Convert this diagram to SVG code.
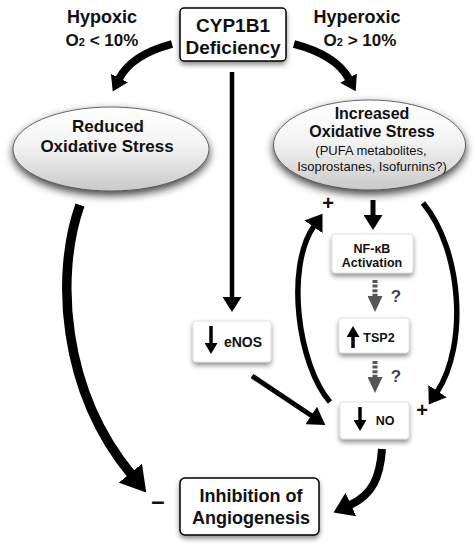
<svg xmlns="http://www.w3.org/2000/svg" width="475" height="551" viewBox="0 0 475 551">
<defs>
<style>
.t{font-family:"Liberation Sans",Arial,Helvetica,sans-serif;font-weight:bold;fill:#111;text-anchor:middle}
.n{font-family:"Liberation Sans",Arial,Helvetica,sans-serif;font-weight:normal;fill:#111;text-anchor:middle}
.q{font-family:"Liberation Sans",Arial,Helvetica,sans-serif;font-weight:bold;fill:#444;text-anchor:middle}
.s{fill:none;stroke:#000}
.box{fill:#fff;stroke:#000;stroke-width:1.5}
.sbox{fill:#fff;stroke:#d0d0d0;stroke-width:0.6}
.ell{fill:url(#eg);stroke:#444;stroke-width:0.8}
.dash{fill:none;stroke:#555;stroke-width:5;stroke-dasharray:3,1.6}
</style>
<linearGradient id="eg" x1="0" y1="0" x2="0" y2="1">
<stop offset="0" stop-color="#ffffff"/>
<stop offset="0.45" stop-color="#f4f4f4"/>
<stop offset="1" stop-color="#c9c9c9"/>
</linearGradient>
<filter id="sh" x="-20%" y="-20%" width="140%" height="150%">
<feDropShadow dx="0" dy="3" stdDeviation="2.5" flood-color="#000" flood-opacity="0.45"/>
</filter>
<filter id="esh" x="-20%" y="-20%" width="140%" height="150%">
<feDropShadow dx="0" dy="4" stdDeviation="4" flood-color="#000" flood-opacity="0.75"/>
</filter>
<marker id="hbig" markerUnits="userSpaceOnUse" markerWidth="26" markerHeight="30" refX="1" refY="15" orient="auto"><path d="M0,0 L25,15 L0,30 z" fill="#000"/></marker>
<marker id="hmid" markerUnits="userSpaceOnUse" markerWidth="20" markerHeight="26" refX="1" refY="13" orient="auto"><path d="M0,0 L19,13 L0,26 z" fill="#000"/></marker>
<marker id="hcur" markerUnits="userSpaceOnUse" markerWidth="17" markerHeight="22" refX="1" refY="11" orient="auto"><path d="M0,0 L16,11 L0,22 z" fill="#000"/></marker>
<marker id="hline" markerUnits="userSpaceOnUse" markerWidth="18" markerHeight="21" refX="1" refY="10.5" orient="auto"><path d="M0,0 L17,10.5 L0,21 z" fill="#000"/></marker>
<marker id="hsm" markerUnits="userSpaceOnUse" markerWidth="16" markerHeight="19" refX="1" refY="9.5" orient="auto"><path d="M0,0 L15,9.5 L0,19 z" fill="#000"/></marker>
<marker id="hin" markerUnits="userSpaceOnUse" markerWidth="12" markerHeight="13" refX="1" refY="6.5" orient="auto"><path d="M0,0 L11,6.5 L0,13 z" fill="#000"/></marker>
<marker id="hgr" markerUnits="userSpaceOnUse" markerWidth="17" markerHeight="15" refX="1" refY="7.5" orient="auto"><path d="M0,0 L16,7.5 L0,15 z" fill="#555"/></marker>
</defs>
<rect width="475" height="551" fill="#fff"/>

<g id="labels">
<text class="t" x="102" y="23" font-size="18">Hypoxic</text>
<text class="t" x="102" y="46" font-size="17">O<tspan font-size="11">2</tspan> &lt; 10%</text>
<text class="t" x="357" y="23" font-size="18">Hyperoxic</text>
<text class="t" x="360" y="46" font-size="17">O<tspan font-size="11">2</tspan> &gt; 10%</text>
<text class="t" x="328" y="210" font-size="20">+</text>
<text class="t" x="422" y="417" font-size="20">+</text>
<text class="t" x="158" y="509" font-size="24">–</text>
<text class="q" x="396" y="302" font-size="17">?</text>
<text class="q" x="396" y="382" font-size="17">?</text>
</g>

<g id="connectors">
<path class="s" stroke-width="8" d="M172,44 Q131,55 119,79" marker-end="url(#hsm)"/>
<path class="s" stroke-width="8" d="M294,44 Q336,55 349,79" marker-end="url(#hsm)"/>
<path class="s" stroke-width="4.5" d="M232,72 L232,298" marker-end="url(#hsm)"/>
<path class="s" stroke-width="9.5" d="M80,205 C55,275 62,390 131,474" marker-end="url(#hbig)"/>
<path class="s" stroke-width="5" d="M252,376 L312,416" marker-end="url(#hline)"/>
<path class="s" stroke-width="8" d="M382,449 C380,478 372,495 350,505" marker-end="url(#hmid)"/>
<path class="s" stroke-width="5.5" d="M330,402 C298,365 285,268 314,226" marker-end="url(#hcur)"/>
<path class="s" stroke-width="5.5" d="M423,203 C462,250 468,345 437,392" marker-end="url(#hcur)"/>
<path class="s" stroke-width="5" d="M373,200 L373,216" marker-end="url(#hsm)"/>
<path class="dash" d="M375,280 L375,297" marker-end="url(#hgr)"/>
<path class="dash" d="M375,361 L375,378" marker-end="url(#hgr)"/>
</g>

<g id="cyp1b1">
<rect class="box" x="180" y="8" width="106" height="53" rx="4" filter="url(#sh)"/>
<text class="t" x="233" y="32" font-size="19">CYP1B1</text>
<text class="t" x="233" y="54" font-size="19">Deficiency</text>
</g>

<g id="reduced">
<ellipse class="ell" cx="111" cy="149" rx="98" ry="42" filter="url(#esh)"/>
<text class="t" x="108" y="132" font-size="17">Reduced</text>
<text class="t" x="107" y="152" font-size="17">Oxidative Stress</text>
</g>

<g id="increased">
<ellipse class="ell" cx="369.5" cy="145" rx="96" ry="45" filter="url(#esh)"/>
<text class="t" x="372" y="118.5" font-size="16">Increased</text>
<text class="t" x="372" y="137" font-size="16">Oxidative Stress</text>
<text class="n" x="371" y="155" font-size="13">(PUFA metabolites,</text>
<text class="n" x="372" y="171" font-size="13">Isoprostanes, Isofurnins?)</text>
</g>

<g id="nfkb">
<rect class="sbox" x="332" y="234" width="81" height="39" rx="3" filter="url(#sh)"/>
<text class="t" x="372" y="253" font-size="12.5">NF-κB</text>
<text class="t" x="372" y="267" font-size="12.5">Activation</text>
</g>

<g id="tsp2">
<rect class="sbox" x="339" y="318" width="70" height="35" rx="3" filter="url(#sh)"/>
<path class="s" stroke-width="3.5" d="M353,348 L353,336" marker-end="url(#hin)"/>
<text class="t" x="379" y="342" font-size="12.5">TSP2</text>
</g>

<g id="enos">
<rect class="sbox" x="193" y="321" width="78" height="41" rx="3" filter="url(#sh)"/>
<path class="s" stroke-width="3.5" d="M211,326 L211,344" marker-end="url(#hin)"/>
<text class="t" x="243" y="347" font-size="14">eNOS</text>
</g>

<g id="no">
<rect class="sbox" x="340" y="402" width="69" height="37" rx="3" filter="url(#sh)"/>
<path class="s" stroke-width="3.5" d="M360,407 L360,421" marker-end="url(#hin)"/>
<text class="t" x="385" y="425" font-size="12.5">NO</text>
</g>

<g id="inhibition">
<rect class="box" x="180" y="478" width="139" height="57" rx="5" filter="url(#sh)"/>
<text class="t" x="251" y="502" font-size="18">Inhibition of</text>
<text class="t" x="251" y="524" font-size="18">Angiogenesis</text>
</g>
</svg>
